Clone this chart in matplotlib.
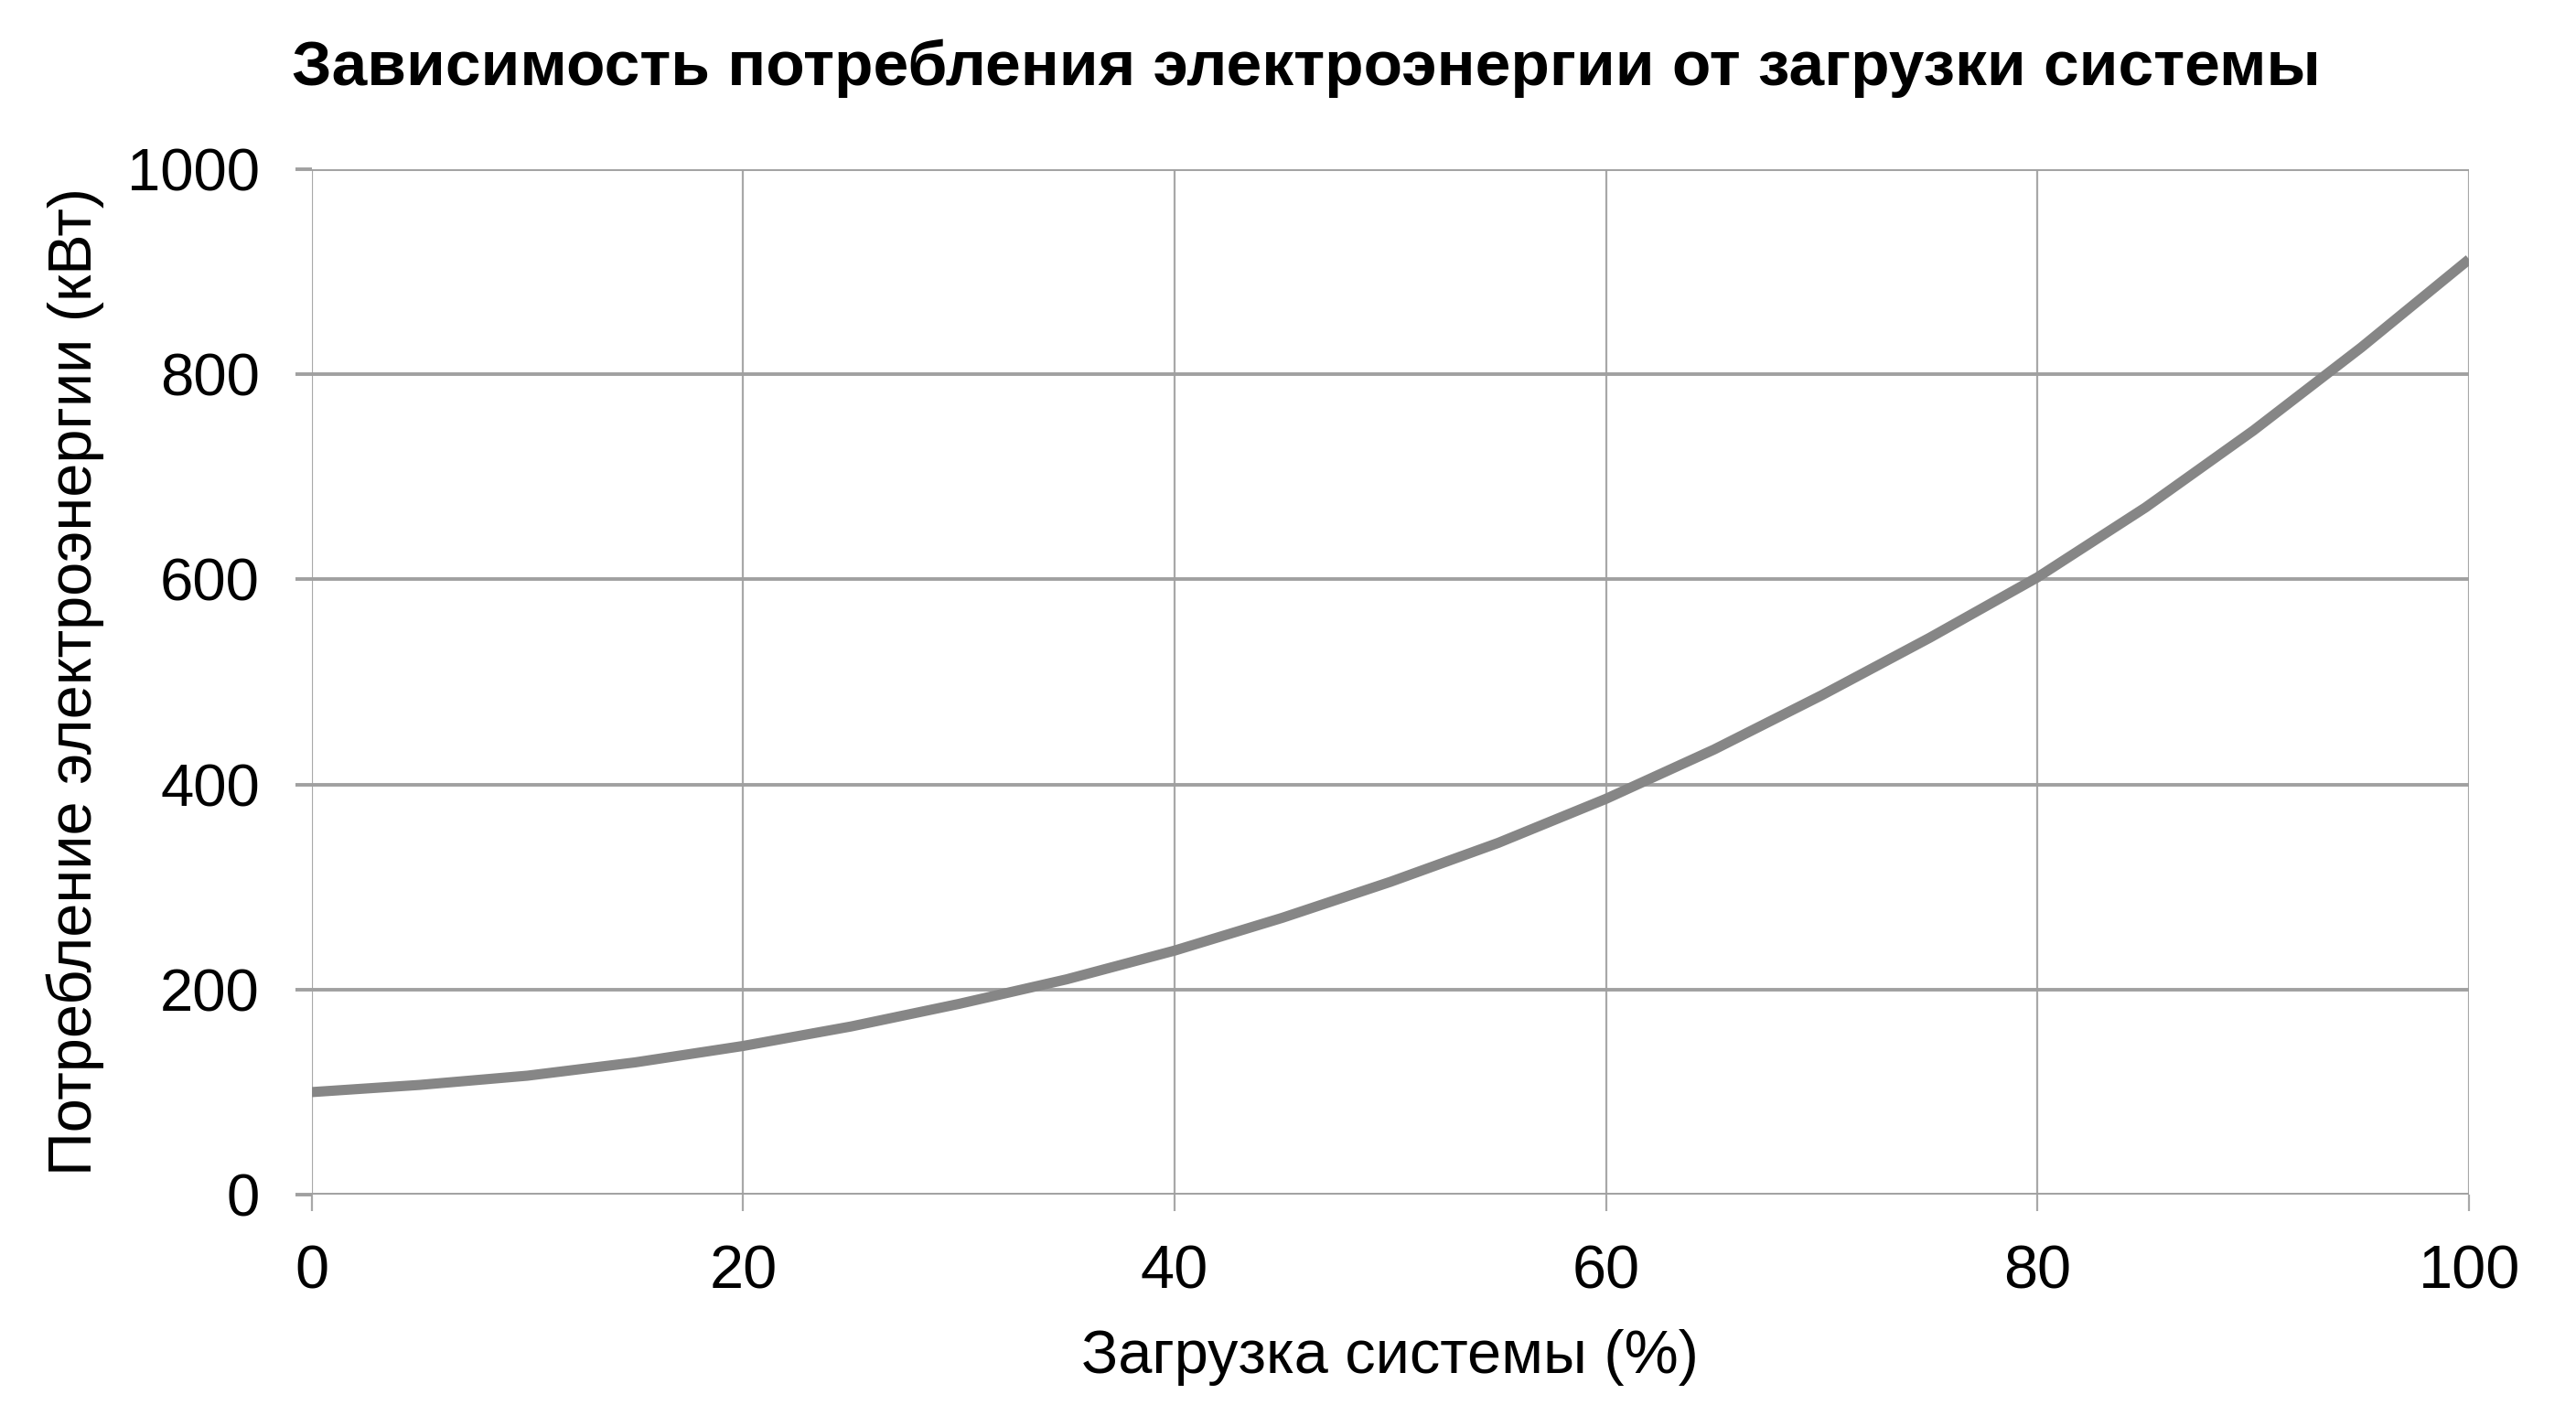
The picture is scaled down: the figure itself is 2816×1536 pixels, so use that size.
import matplotlib
matplotlib.use("Agg")
import matplotlib.pyplot as plt

plt.rcParams['font.family'] = ['Liberation Sans', 'DejaVu Sans']

# Data
load_pct = [0, 5, 10, 15, 20, 25, 30, 35, 40, 45, 50,
            55, 60, 65, 70, 75, 80, 85, 90, 95, 100]
power_kw = [100, 107, 116, 129, 145, 164, 186, 210, 238, 270, 305,
            343, 386, 434, 487, 543, 602, 670, 745, 826, 912]

x_ticks = [0, 20, 40, 60, 80, 100]
y_ticks = [0, 200, 400, 600, 800, 1000]

title = 'Зависимость потребления электроэнергии от загрузки системы'
x_label = 'Загрузка системы (%)'
y_label = 'Потребление электроэнергии (кВт)'

fig = plt.figure(figsize=(28.16, 15.36), dpi=100)
ax = fig.add_axes([0.121, 0.1497, 0.8375, 0.73])

ax.plot(load_pct, power_kw, color='#868686', linewidth=8,
        solid_capstyle='butt', solid_joinstyle='round', zorder=3)

ax.set_xlim(0, 100)
ax.set_ylim(0, 1000)
ax.set_xticks(x_ticks)
ax.set_yticks(y_ticks)

# grid instead of spines
for s in ax.spines.values():
    s.set_visible(False)
ax.xaxis.grid(True, color='#a8a8a8', linewidth=1.6)
ax.yaxis.grid(True, color='#a0a0a0', linewidth=2.8)
ax.set_axisbelow(True)
ax.tick_params(axis='x', length=13, width=1.6, color='#a8a8a8',
               labelsize=48, pad=26)
ax.tick_params(axis='y', length=13, width=2.8, color='#a0a0a0',
               labelsize=47, pad=28)

ax.set_xlabel(x_label, fontsize=48, labelpad=22)
ax.set_ylabel(y_label, fontsize=48, labelpad=18)
fig.text(0.507, 0.951, title, fontsize=50, fontweight='bold',
         ha='center', va='center')

fig.savefig('out.png', dpi=100, facecolor='white')
